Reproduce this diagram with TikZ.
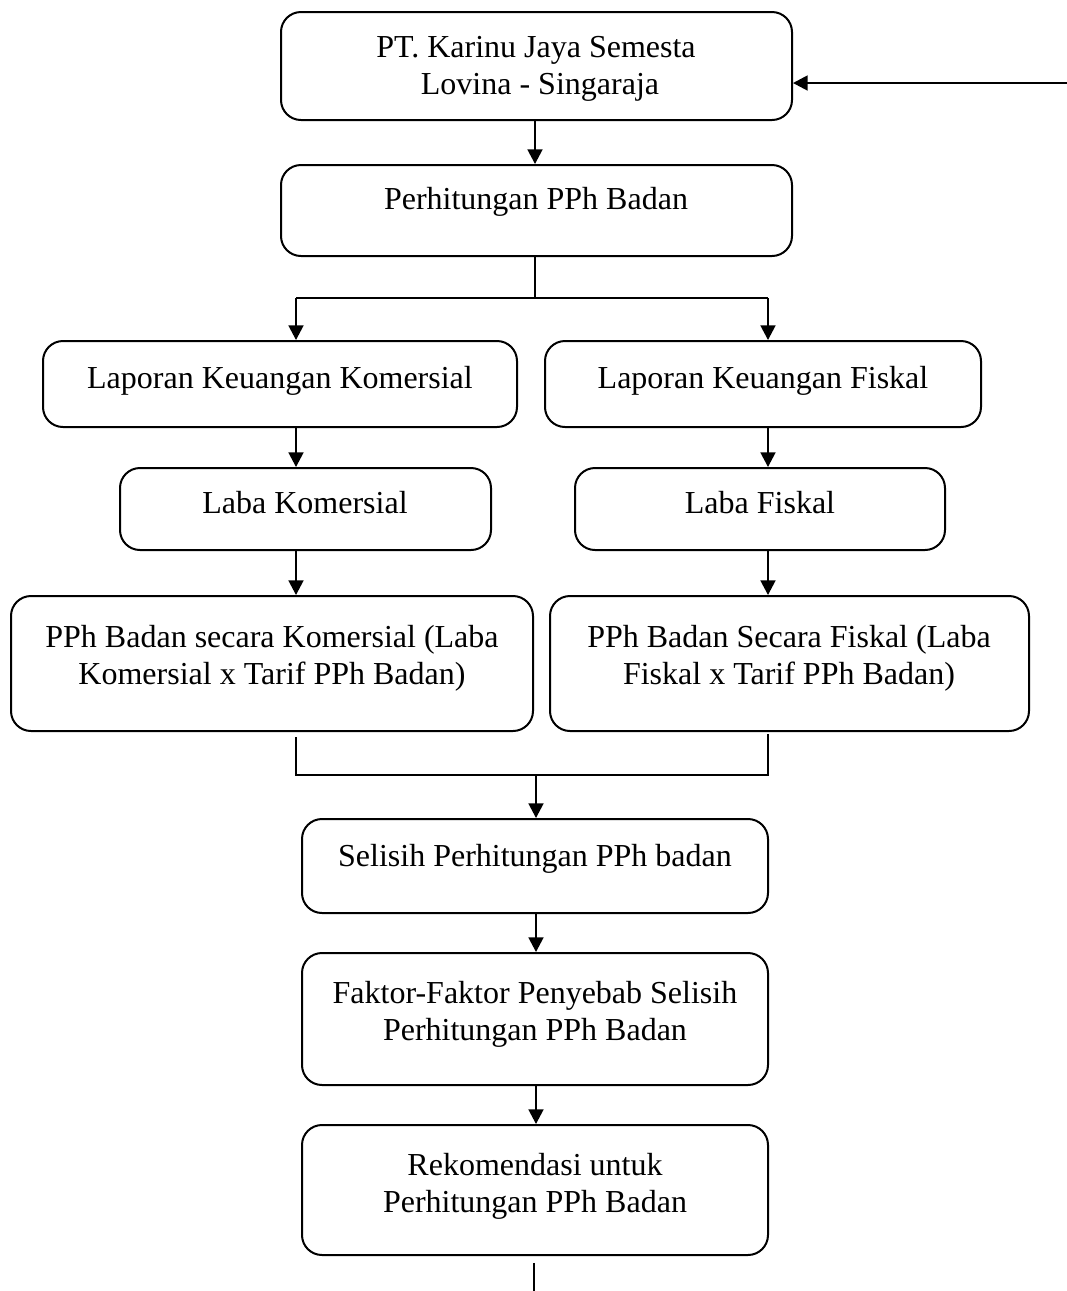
\documentclass[tikz,border=0pt]{standalone}
\usepackage{fontspec}
\setmainfont{Liberation Serif}
\usetikzlibrary{arrows.meta,fit,calc}
\begin{document}
\begin{tikzpicture}[x=0.375pt,y=-0.375pt,
  box/.style={draw,line width=0.75pt,rounded corners=7.5pt,inner sep=0pt,rectangle},
  txt/.style={align=center,font=\fontsize{12pt}{13.9pt}\selectfont,inner sep=0pt},
  ln/.style={line width=0.75pt},
  arr/.style={line width=0.75pt,-{Triangle[length=5.5pt,width=5.6pt]}}]
\useasboundingbox (0,0) rectangle (1067,1291);
% boxes
\node[box,fit={(281,12) (792,120)}] (b1) {};
\node[box,fit={(281,165) (792,256)}] (b2) {};
\node[box,fit={(43,341) (517,427)}] (b3) {};
\node[box,fit={(545,341) (981,427)}] (b4) {};
\node[box,fit={(120,468) (491,550)}] (b5) {};
\node[box,fit={(575,468) (945,550)}] (b6) {};
\node[box,fit={(11,596) (533,731)}] (b7) {};
\node[box,fit={(550,596) (1029,731)}] (b8) {};
\node[box,fit={(302,819) (768,913)}] (b9) {};
\node[box,fit={(302,953) (768,1085)}] (b10) {};
\node[box,fit={(302,1125) (768,1255)}] (b11) {};
% texts
\node[txt] (t1) at (536,69) {PT. Karinu Jaya Semesta\\ \ Lovina - Singaraja};
\node[txt] (t2) at (536,202) {Perhitungan PPh Badan};
\node[txt] (t3) at (280,381) {Laporan Keuangan Komersial};
\node[txt] (t4) at (763,381) {Laporan Keuangan Fiskal};
\node[txt] (t5) at (305,503) {Laba Komersial};
\node[txt] (t6) at (760,503) {Laba Fiskal};
\node[txt] (t7) at (272,658) {PPh Badan secara Komersial (Laba\\Komersial x Tarif PPh Badan)};
\node[txt] (t8) at (789,658) {PPh Badan Secara Fiskal (Laba\\Fiskal x Tarif PPh Badan)};
\node[txt] (t9) at (535,859) {Selisih Perhitungan PPh badan};
\node[txt] (t10) at (535,1014) {Faktor-Faktor Penyebab Selisih\\Perhitungan PPh Badan};
\node[txt] (t11) at (535,1186) {Rekomendasi untuk\\Perhitungan PPh Badan};
% coordinates
\coordinate (in) at (1067,83);
\coordinate (j0) at (535,298);
\coordinate (jl) at (296,298);
\coordinate (jr) at (768,298);
\coordinate (ml) at (296,775);
\coordinate (mr) at (768,775);
\coordinate (mc) at (536,775);
\coordinate (e) at (534,1291);
% connectors
\draw[arr] (in) -- (in -| b1.east);
\draw[arr] (535,0 |- b1.south) -- (535,0 |- b2.north);
\draw[ln] (535,0 |- b2.south) -- (j0);
\draw[ln] (jl) -- (jr);
\draw[arr] (jl) -- (jl |- b3.north);
\draw[arr] (jr) -- (jr |- b4.north);
\draw[arr] (jl |- b3.south) -- (jl |- b5.north);
\draw[arr] (jr |- b4.south) -- (jr |- b6.north);
\draw[arr] (jl |- b5.south) -- (jl |- b7.north);
\draw[arr] (jr |- b6.south) -- (jr |- b8.north);
\draw[ln] ([yshift=-1.9pt]ml |- b7.south) -- (ml) -- (mr) -- ([yshift=-0.8pt]mr |- b8.south);
\draw[arr] (mc) -- (mc |- b9.north);
\draw[arr] (mc |- b9.south) -- (mc |- b10.north);
\draw[arr] (mc |- b10.south) -- (mc |- b11.north);
\draw[ln] ([yshift=-2.6pt]e |- b11.south) -- (e);
\end{tikzpicture}
\end{document}
